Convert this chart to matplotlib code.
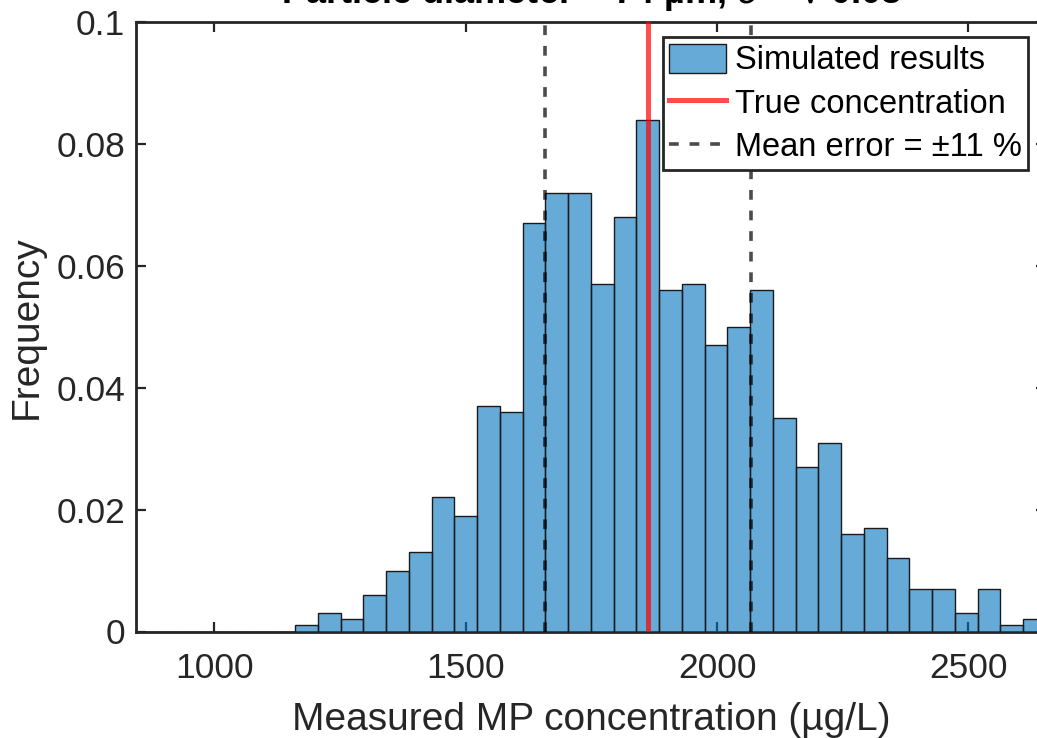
import numpy as np
import matplotlib
matplotlib.use("Agg")
import matplotlib.pyplot as plt
from matplotlib.patches import Patch
from matplotlib.lines import Line2D

# ---- data ----
bin_start = 844.3
bin_width = 45.24
frequency = [0, 0, 0, 0, 0, 0, 0,
             0.001, 0.003, 0.002, 0.006, 0.010, 0.013, 0.022, 0.019, 0.037, 0.036,
             0.067, 0.072, 0.072, 0.057, 0.068, 0.084, 0.056, 0.057, 0.047, 0.050,
             0.056, 0.035, 0.027, 0.031, 0.016, 0.017, 0.012, 0.007, 0.007, 0.003,
             0.007, 0.001, 0.002]
true_concentration = 1863
error_bounds = [1658, 2068]
x_ticks = [1000, 1500, 2000, 2500]
y_ticks = [0, 0.02, 0.04, 0.06, 0.08, 0.1]
y_tick_labels = ["0", "0.02", "0.04", "0.06", "0.08", "0.1"]

plt.rcParams['font.family'] = ['Liberation Sans', 'DejaVu Sans']
fig = plt.figure(figsize=(10.37, 7.38), dpi=100)
W, H = 1037, 738
ax = fig.add_axes([136 / W, (H - 631.5) / H, (1045.8 - 136) / W, (631.5 - 22) / H])

edges = bin_start + bin_width * np.arange(len(frequency) + 1)
x_left = float(edges[0]); x_right = float(edges[-1])

ax.set_axisbelow(True)
ax.bar(edges[:-1], frequency, width=bin_width, align='edge',
       facecolor=(0, 0.447, 0.741, 0.6), edgecolor='#1a1a1a', linewidth=1.0, zorder=3)
ax.axvline(true_concentration, color=(1, 0, 0, 0.7), linewidth=3.6, zorder=4)
for xb in error_bounds:
    ax.axvline(xb, color=(0, 0, 0, 0.7), linewidth=2.6, linestyle=(0, (2.7, 3.0)), zorder=4)

ax.set_xlim(x_left, x_right)
ax.set_ylim(0, 0.1)
ax.set_xticks(x_ticks)
ax.set_yticks(y_ticks)
ax.set_yticklabels(y_tick_labels)

fc = '#262626'
for s in ax.spines.values():
    s.set_linewidth(2.0)
    s.set_color(fc)
    s.set_zorder(0.5)
ax.tick_params(direction='in', length=7, width=1.6, colors=fc, labelsize=25.5,
               top=True, right=True, pad=8)
ax.tick_params(axis='x', pad=15)

ax.set_xlabel('Measured MP concentration (µg/L)', fontsize=28, color=fc, labelpad=12)
ax.set_ylabel('Frequency', fontsize=28, color=fc, labelpad=8)
ax.set_title('Particle diameter = 74 µm, $\\sigma$ = √ 0.08', fontsize=26,
             fontweight='bold', pad=14)

handles = [Patch(facecolor=(0, 0.447, 0.741, 0.6), edgecolor='#1a1a1a', linewidth=1.0),
           Line2D([0], [0], color=(1, 0, 0, 0.7), linewidth=3.6),
           Line2D([0], [0], color=(0, 0, 0, 0.7), linewidth=2.6, linestyle=(0, (2.7, 3.0)))]
labels = ['Simulated results', 'True concentration', 'Mean error = ±11 %']
leg = ax.legend(handles, labels, loc='upper right', bbox_to_anchor=(1028 / W, (H - 37) / H),
                bbox_transform=fig.transFigure, fontsize=23.5, frameon=True, fancybox=False,
                edgecolor='#262626', framealpha=1, borderpad=0.2, handlelength=1.75,
                handleheight=1.0, handletextpad=0.25, labelspacing=0.33, borderaxespad=0)
leg.get_frame().set_linewidth(2.0)
leg.set_zorder(5)

fig.savefig('out.png', dpi=100)
